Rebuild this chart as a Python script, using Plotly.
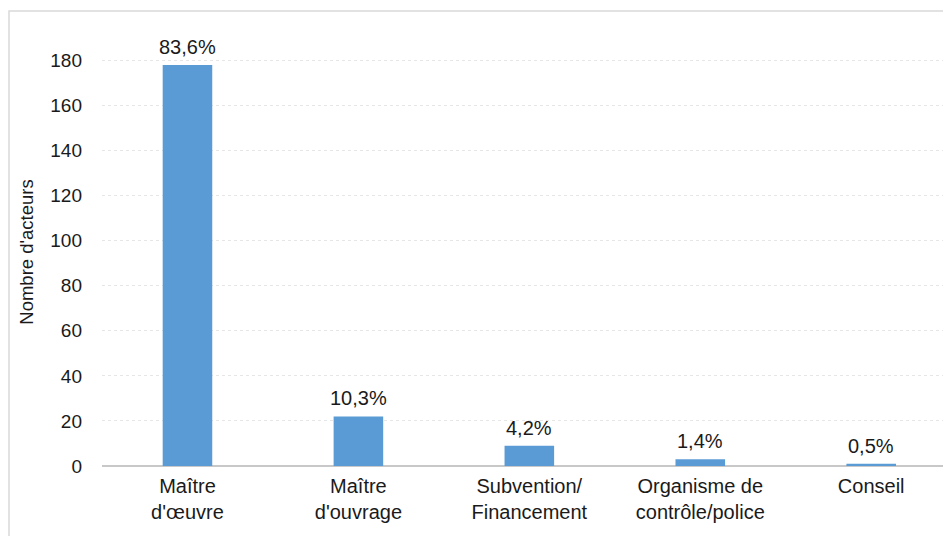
import plotly.graph_objects as go

categories = ["Maître<br>d'œuvre", "Maître<br>d'ouvrage", "Subvention/<br>Financement",
              "Organisme de<br>contrôle/police", "Conseil"]
values = [178, 22, 9, 3, 1]
pct_labels = ["83,6%", "10,3%", "4,2%", "1,4%", "0,5%"]
y_ticks = [0, 20, 40, 60, 80, 100, 120, 140, 160, 180]

W, H = 943, 536
ml, mr, mt, mb = 102, 0, 38, 70
pw, ph = W - ml - mr, H - mt - mb

FONT = "Liberation Sans, Arial, sans-serif"
TXT = "#1a1a1a"

fig = go.Figure()
fig.add_trace(go.Bar(
    x=list(range(len(categories))), y=values,
    marker=dict(color="#5B9BD5", line=dict(width=0)),
    width=0.29, hoverinfo="skip",
))

for i, (v, t) in enumerate(zip(values, pct_labels)):
    fig.add_annotation(x=i, y=v, text=t, showarrow=False, yanchor="bottom",
                       yshift=5, font=dict(family=FONT, size=20, color=TXT))

fig.add_shape(type="rect", xref="paper", yref="paper",
              x0=(9 - ml) / pw, x1=1.05, y0=-0.3, y1=(H - mb - 11) / ph,
              line=dict(color="#d9d9d9", width=1.5), fillcolor="rgba(0,0,0,0)", layer="below")

fig.update_layout(
    width=W, height=H,
    margin=dict(l=ml, r=mr, t=mt, b=mb),
    paper_bgcolor="white", plot_bgcolor="white",
    showlegend=False,
    font=dict(family=FONT, size=19, color=TXT),
    xaxis=dict(
        tickmode="array", tickvals=list(range(len(categories))), ticktext=categories,
        range=[-0.5, 4.42], showgrid=False, zeroline=False,
        showline=False, ticks="", tickfont=dict(size=20, color=TXT),
        ticklabelstandoff=6,
    ),
    yaxis=dict(
        range=[0, 190], tickmode="array", tickvals=y_ticks,
        showgrid=True, gridcolor="#e6e6e6", griddash="dot", gridwidth=1,
        zeroline=True, zerolinecolor="#c8c8c8", zerolinewidth=1.5,
        showline=False, ticks="", tickfont=dict(size=19, color=TXT),
        ticklabelstandoff=19,
        title=dict(text="Nombre d'acteurs", font=dict(size=18.5, color=TXT), standoff=11),
    ),
)

fig.write_html("out.html", config={"displayModeBar": False},
               post_script="document.body.style.margin='0';document.body.style.overflow='hidden';")
